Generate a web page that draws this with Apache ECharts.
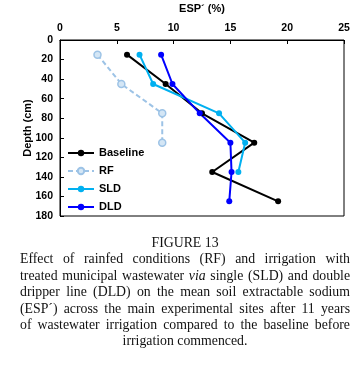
<!DOCTYPE html>
<html><head><meta charset="utf-8">
<script src="https://cdn.jsdelivr.net/npm/echarts@6/dist/echarts.min.js"></script>
<style>
html,body{margin:0;padding:0;background:#fff;}
#c{position:absolute;left:0;top:0;width:362px;height:366px;}
#cap{position:absolute;left:20px;top:235px;width:330px;font-family:"Liberation Serif","Times New Roman",serif;font-size:13.8px;line-height:16.4px;color:#111;}
#cap div{text-align:justify;text-align-last:justify;white-space:nowrap;}
#cap div.c{text-align:center;text-align-last:center;}
</style></head><body>
<div id="c"></div>
<div id="cap">
<div class="c">FIGURE 13</div>
<div>Effect of rainfed conditions (RF) and irrigation with</div>
<div>treated municipal wastewater <i>via</i> single (SLD) and double</div>
<div>dripper line (DLD) on the mean soil extractable sodium</div>
<div>(ESP´) across the main experimental sites after 11 years</div>
<div>of wastewater irrigation compared to the baseline before</div>
<div class="c">irrigation commenced.</div>
</div>
<script>
const depths = [15, 45, 75, 105, 135, 165];
const baseline = [5.9, 9.3, 12.5, 17.1, 13.4, 19.2];
const rf = [3.3, 5.4, 9.0, 9.0];
const sld = [7.0, 8.2, 14.0, 16.3, 15.7];
const dld = [8.9, 9.9, 12.3, 15.0, 15.1, 14.9];
const xTicks = [0, 5, 10, 15, 20, 25];
const yTicks = [0, 20, 40, 60, 80, 100, 120, 140, 160, 180];

function pts(vals){ return vals.map((v,i)=>[v, depths[i]]); }

const chart = echarts.init(document.getElementById('c'));
const lab = {fontFamily:'Arial, "Liberation Sans", sans-serif', fontWeight:'bold', fontSize:10.5, color:'#000'};
chart.setOption({
  animation:false,
  grid:{left:60, right:18, top:40, bottom:150, show:true, borderColor:'#000', borderWidth:1},
  xAxis:{type:'value', position:'top', min:xTicks[0], max:xTicks[xTicks.length-1], interval:5,
    name:'ESP´ (%)', nameLocation:'middle', nameGap:26, nameMoveOverlap:false, nameTextStyle:Object.assign({}, lab, {fontSize:11}),
    axisLine:{show:true, lineStyle:{color:'#000', width:1}},
    axisTick:{show:true, inside:true, length:4, lineStyle:{color:'#000'}},
    axisLabel:Object.assign({}, lab, {margin:6}),
    splitLine:{show:false}},
  yAxis:{type:'value', inverse:true, min:yTicks[0], max:yTicks[yTicks.length-1], interval:20,
    name:'Depth (cm)', nameLocation:'middle', nameGap:27, nameMoveOverlap:false, nameTextStyle:Object.assign({}, lab, {fontSize:11}),
    axisLine:{show:true, lineStyle:{color:'#000', width:1}},
    axisTick:{show:true, inside:true, length:4, lineStyle:{color:'#000'}},
    axisLabel:Object.assign({}, lab, {margin:7}),
    splitLine:{show:false}},
  legend:{orient:'vertical', left:67, top:147, padding:0, itemWidth:26, itemHeight:8, itemGap:6,
    textStyle:Object.assign({}, lab, {fontSize:11, lineHeight:12}),
    data:['Baseline','RF','SLD','DLD']},
  series:[
    {name:'Baseline', type:'line', data:pts(baseline), symbol:'circle', symbolSize:6,
      lineStyle:{color:'#000', width:2}, itemStyle:{color:'#000'}},
    {name:'RF', type:'line', data:pts(rf), symbol:'circle', symbolSize:7,
      lineStyle:{color:'#9DC3E6', width:2, type:[5,3]}, itemStyle:{color:'#d4e6f5', borderColor:'#9DC3E6', borderWidth:1.5}},
    {name:'SLD', type:'line', data:pts(sld), symbol:'circle', symbolSize:6,
      lineStyle:{color:'#00B0F0', width:2}, itemStyle:{color:'#00B0F0'}},
    {name:'DLD', type:'line', data:pts(dld), symbol:'circle', symbolSize:6,
      lineStyle:{color:'#0000FF', width:2}, itemStyle:{color:'#0000FF'}}
  ]
});
</script>
</body></html>
